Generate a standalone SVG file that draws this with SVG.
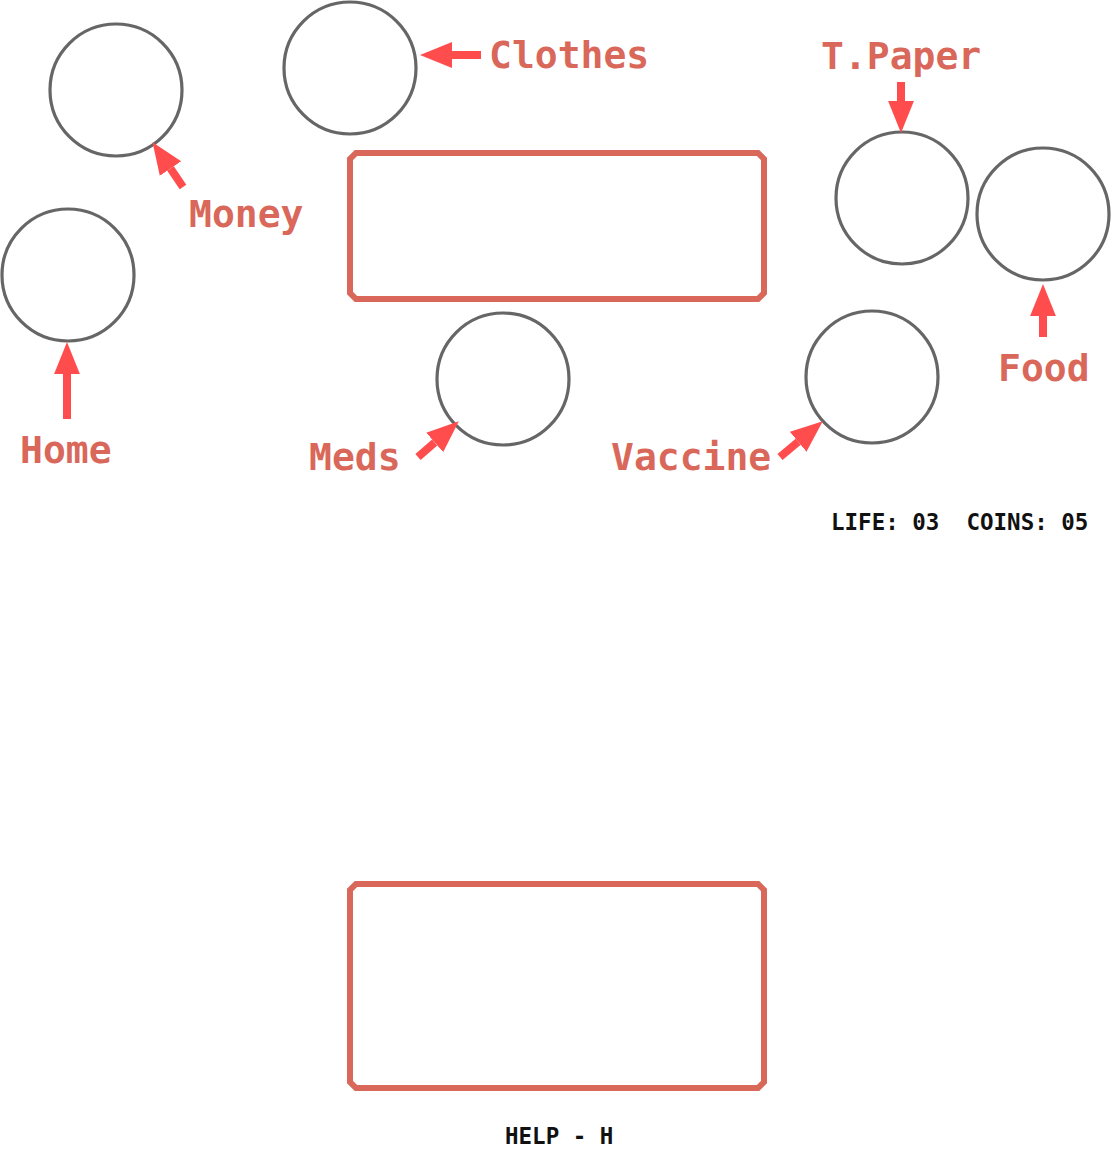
<svg xmlns="http://www.w3.org/2000/svg" width="1112" height="1156" viewBox="0 0 1112 1156">
<style>
.c{fill:#fff;stroke:#666;stroke-width:3.2}
.box{fill:#fff;stroke:#d9675a;stroke-width:6;stroke-linejoin:miter}
.lbl{font-family:"DejaVu Sans Mono","Liberation Mono",monospace;font-weight:bold;font-size:38px;fill:#d9675a}
.hud{font-family:"DejaVu Sans Mono","Liberation Mono",monospace;font-weight:bold;font-size:22.5px;fill:#111;white-space:pre}
.ar{stroke:#ff4d4d;stroke-width:8;fill:none;marker-end:url(#head)}
</style>
<defs>
<marker id="head" markerUnits="userSpaceOnUse" markerWidth="32" markerHeight="28" viewBox="0 -13 31 26" refX="0" refY="0" orient="auto">
<path d="M0,-12.5 L31,0 L0,12.5 z" fill="#ff4d4d"/>
</marker>
</defs>
<rect width="1112" height="1156" fill="#fff"/>
<g id="screen-top"><path class="box" d="M356,153 H758 L764,159 V293 L758,299 H356 L350,293 V159 z"/></g>
<g id="screen-bottom"><path class="box" d="M356,884 H758 L764,890 V1082 L758,1088 H356 L350,1082 V890 z"/></g>
<g id="money"><circle class="c" cx="116" cy="90" r="66"/><text class="lbl" x="189" y="227">Money</text></g>
<g id="clothes"><circle class="c" cx="350" cy="68" r="66"/><text class="lbl" x="489" y="68">Clothes</text></g>
<g id="home"><circle class="c" cx="68" cy="275" r="66"/><text class="lbl" x="20" y="463">Home</text></g>
<g id="tpaper"><circle class="c" cx="902" cy="198" r="66"/><text class="lbl" x="821" y="69">T.Paper</text></g>
<g id="food"><circle class="c" cx="1043" cy="214" r="66"/><text class="lbl" x="998" y="381">Food</text></g>
<g id="meds"><circle class="c" cx="503" cy="379" r="66"/><text class="lbl" x="309" y="470">Meds</text></g>
<g id="vaccine"><circle class="c" cx="872" cy="377" r="66"/><text class="lbl" x="611" y="470">Vaccine</text></g>
<g id="hud"><text class="hud" x="831" y="530" xml:space="preserve">LIFE: 03  COINS: 05</text><text class="hud" x="505" y="1144" xml:space="preserve">HELP - H</text></g>
<g id="connectors">
<line class="ar" x1="481" y1="55" x2="452" y2="55"/>
<line class="ar" x1="183" y1="187" x2="170.5" y2="168.6"/>
<line class="ar" x1="901" y1="82" x2="901" y2="101"/>
<line class="ar" x1="1043" y1="337" x2="1043" y2="316"/>
<line class="ar" x1="67" y1="419" x2="67" y2="374"/>
<line class="ar" x1="418" y1="457" x2="434.7" y2="442.4"/>
<line class="ar" x1="780" y1="457" x2="798.2" y2="441.8"/>
</g>
</svg>
